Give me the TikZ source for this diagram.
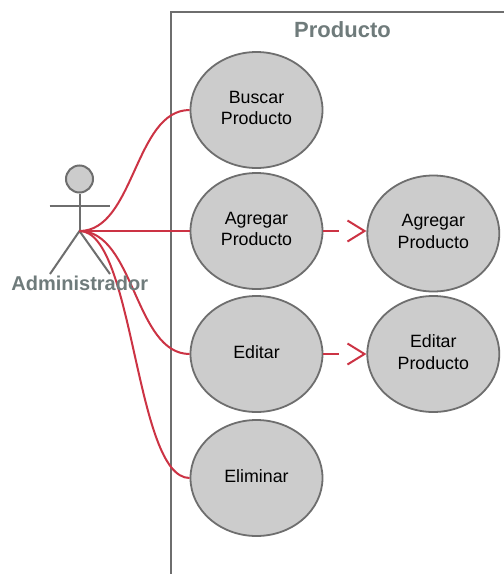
\documentclass[tikz,border=0pt]{standalone}
\usepackage{fontspec}
\setmainfont{Liberation Sans}
\usetikzlibrary{arrows.meta,shapes.geometric}
\definecolor{linegray}{HTML}{6E6E6E}
\definecolor{fillgray}{HTML}{CCCCCC}
\definecolor{titlegray}{HTML}{6F7B7B}
\definecolor{linkred}{HTML}{CC3344}
\tikzset{
  usecase/.style={draw=linegray,fill=fillgray,line width=1.8pt,ellipse,minimum width=132pt,minimum height=116pt,inner sep=0pt,align=center,font=\fontsize{17.8pt}{21.5pt}\selectfont,text=black,execute at end node={\rule[-4pt]{0pt}{4pt}}},
  stick/.style={draw=linegray,line width=2pt},
  assoc/.style={draw=linkred,line width=2pt},
  extendlink/.style={draw=linkred,line width=2pt,dash pattern=on 15.5pt off 60pt,-{Straight Barb[length=17pt,width=21pt,line width=2pt]}},
  titlelabel/.style={text=titlegray,font=\bfseries\fontsize{22pt}{26pt}\selectfont,inner sep=0pt},
  actorlabel/.style={text=titlegray,font=\bfseries\fontsize{20pt}{24pt}\selectfont,inner sep=0pt},
}
\begin{document}
\begin{tikzpicture}[x=1pt,y=-1pt]
\useasboundingbox[fill=white] (0,0) rectangle (504,574);
% system boundary
\draw[stick] (171,574) -- (171,11.5) -- (504,11.5);
\node[titlelabel] (title) at (342.5,30) {Producto};
% use cases
\node[usecase] (buscar) at (256.5,110) {Buscar\\Producto};
\node[usecase] (agregar) at (256.5,231) {Agregar\\Producto};
\node[usecase] (editar) at (256.5,354) {Editar};
\node[usecase] (eliminar) at (256.5,478) {Eliminar};
\node[usecase] (agregarp) at (433.3,233.5) {Agregar\\Producto};
\node[usecase] (editarp) at (433.3,354) {Editar\\Producto};
% actor
\node[circle,draw=linegray,fill=fillgray,line width=2pt,minimum size=27pt,inner sep=0pt] (head) at (79.5,179) {};
\coordinate (hip) at (79.5,231);
\coordinate (armL) at (49.5,206);
\coordinate (armR) at (110,206);
\coordinate (footL) at (50,274);
\coordinate (footR) at (110,274);
\draw[stick] (head.south) -- (hip);
\draw[stick] (armL) -- (armR);
\draw[stick] (footL) -- (hip) -- (footR);
% associations
\draw[assoc] (hip) .. controls +(55,0) and +(-55,0) .. (buscar.west);
\draw[assoc] (hip) -- (agregar.west);
\draw[assoc] (hip) .. controls +(55,0) and +(-55,0) .. (editar.west);
\draw[assoc] (hip) .. controls +(55,0) and +(-55,0) .. (eliminar.west);
% extend links
\draw[extendlink] (agregar.east) -- (agregar.east -| agregarp.west);
\draw[extendlink] (editar.east) -- (editarp.west);
\node[actorlabel] (actorname) at (79.7,283.5) {Administrador};
\end{tikzpicture}
\end{document}
